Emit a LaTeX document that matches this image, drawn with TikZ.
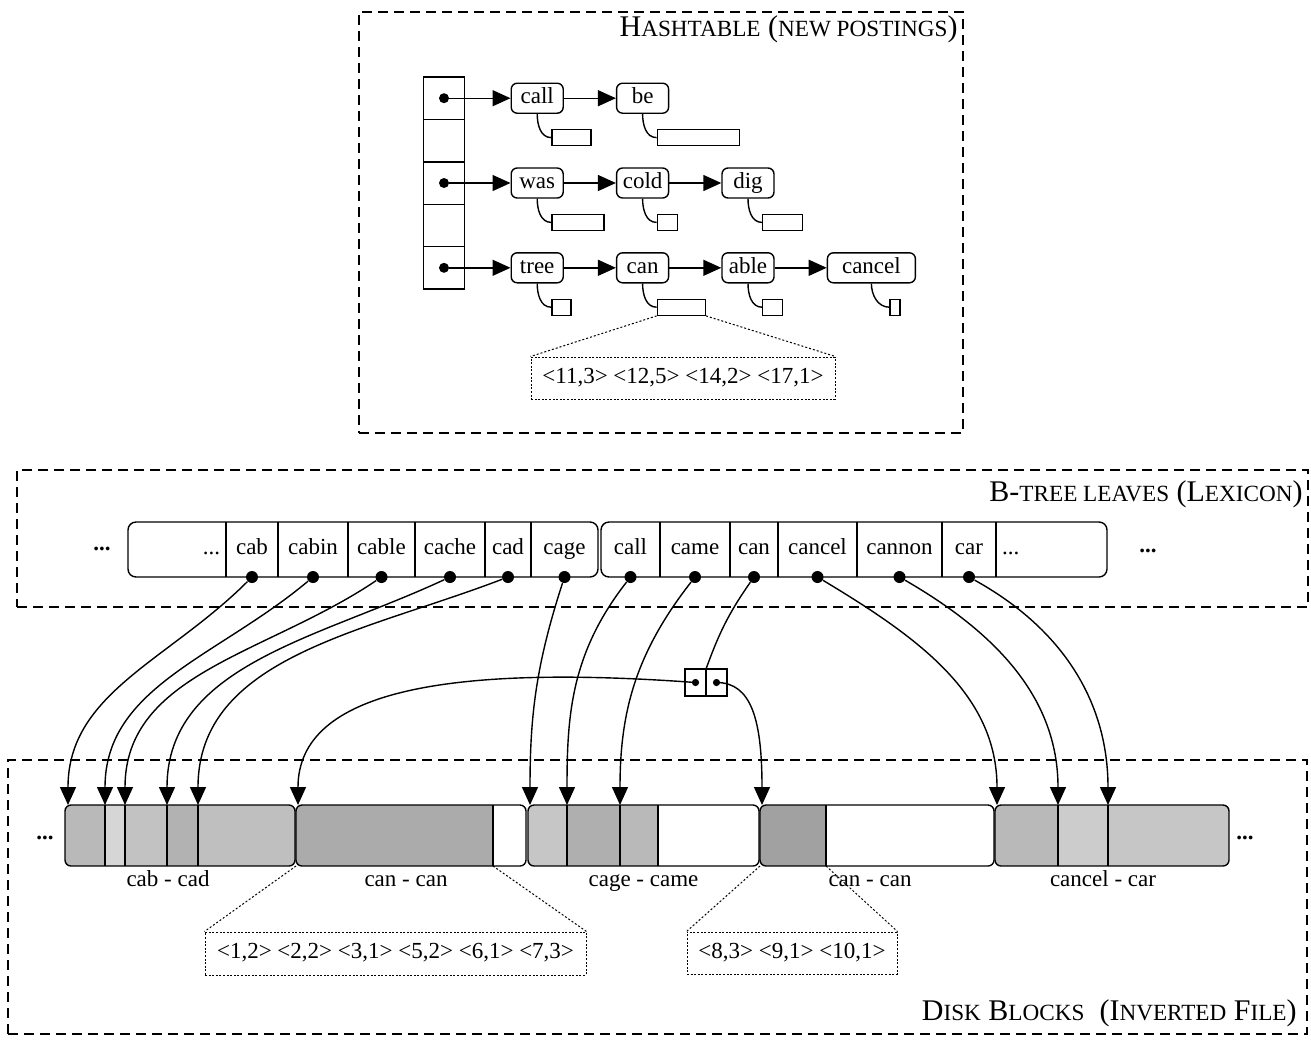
\documentclass[tikz,border=0pt]{standalone}
\usepackage{fontspec}
\setmainfont{Liberation Serif}
\usepackage{tikz}
\usetikzlibrary{
  arrows.meta,
  positioning,
  fit,
  backgrounds
}
\newcommand{\sct}[1]{{\fontsize{11.6}{13}\selectfont #1}}

\begin{document}
\begin{tikzpicture}[
    x=0.5pt, y=0.5pt,
    font=\fontsize{11.5}{13}\selectfont,
    node distance=26pt,
    region/.style={draw, line width=1pt, dash pattern=on 5pt off 3pt, inner sep=0pt},
    title/.style={inner sep=0pt, font=\fontsize{15}{17}\selectfont},
    hcell/.style={draw, line width=0.7pt, minimum width=20.5pt, minimum height=21.2pt, inner sep=0pt, outer sep=0pt},
    word/.style={draw, rounded corners=3pt, line width=0.7pt, minimum width=26pt, minimum height=15pt, inner sep=1pt, text height=7.5pt, text depth=2.2pt},
    plist/.style={draw, line width=0.7pt, minimum width=#1, minimum height=8pt, inner sep=0pt},
    leafcell/.style={minimum width=#1, minimum height=27.5pt, inner xsep=3pt, inner ysep=0pt, outer sep=0pt, text height=7.5pt, text depth=2.2pt},
    leafbox/.style={draw, rounded corners=4pt, line width=0.7pt, inner sep=0pt},
    block/.style={draw, rounded corners=3pt, line width=0.7pt, minimum height=30.5pt, inner sep=0pt, outer sep=0pt},
    bcell/.style={minimum width=#1, minimum height=30.5pt, inner sep=0pt, outer sep=0pt},
    pcell/.style={draw, line width=0.7pt, minimum width=10.5pt, minimum height=13.5pt, inner sep=0pt, outer sep=0pt},
    blob/.style={circle, fill, inner sep=0pt, minimum size=#1},
    blob/.default=6pt,
    ptr/.style={-{Triangle[length=9pt, width=8pt]}, line width=0.7pt},
    wire/.style={line width=0.7pt},
    zoombox/.style={draw, line width=0.5pt, dash pattern=on 1pt off 0.8pt, inner sep=2pt, text height=7.5pt, text depth=2.2pt},
    zoomline/.style={line width=0.5pt, dash pattern=on 1pt off 1pt},
    lbl/.style={inner sep=0pt, text height=7.5pt, text depth=2.2pt}
]
    \useasboundingbox (0,0) rectangle (1311,-1040);

    % hashtable
    \node[region, minimum width=302pt, minimum height=210.5pt] (hashbox) at (661,-222.5) {};
    \node[title, anchor=east] (hashtitle) at ([xshift=-3pt, yshift=-9pt]hashbox.north east) {H\sct{ASHTABLE} (\sct{NEW POSTINGS})};

    \node[hcell] (h1) at (444,-98.2) {};
    \node[hcell, below=0pt of h1] (h2) {};
    \node[hcell, below=0pt of h2] (h3) {};
    \node[hcell, below=0pt of h3] (h4) {};
    \node[hcell, below=0pt of h4] (h5) {};
    \node[blob=5pt] (bh1) at (h1) {};
    \node[blob=5pt] (bh3) at (h3) {};
    \node[blob=5pt] (bh5) at (h5) {};

    \node[word, right=23pt of h1] (call) {call};
    \node[word, right=of call] (be) {be};
    \node[word, right=23pt of h3] (was) {was};
    \node[word, right=of was] (cold) {cold};
    \node[word, right=of cold] (dig) {dig};
    \node[word, right=23pt of h5] (tree) {tree};
    \node[word, right=of tree] (can) {can};
    \node[word, right=of can] (able) {able};
    \node[word, right=of able, minimum width=44pt] (cancel) {cancel};

    \draw[ptr] (bh1) -- (call);
    \draw[ptr] (call) -- (be);
    \draw[ptr] (bh3) -- (was);
    \draw[ptr] (was) -- (cold);
    \draw[ptr] (cold) -- (dig);
    \draw[ptr] (bh5) -- (tree);
    \draw[ptr] (tree) -- (can);
    \draw[ptr] (can) -- (able);
    \draw[ptr] (able) -- (cancel);

    \node[plist=19.5pt, below right=7.5pt and 7pt of call.south] (pcall) {};
    \node[plist=41pt, below right=7.5pt and 7pt of be.south] (pbe) {};
    \node[plist=26pt, below right=7.5pt and 7pt of was.south] (pwas) {};
    \node[plist=10pt, below right=7.5pt and 7pt of cold.south] (pcold) {};
    \node[plist=20pt, below right=7.5pt and 7pt of dig.south] (pdig) {};
    \node[plist=9.5pt, below right=7.5pt and 7pt of tree.south] (ptree) {};
    \node[plist=24pt, below right=7.5pt and 7pt of can.south] (pcan) {};
    \node[plist=10pt, below right=7.5pt and 7pt of able.south] (pable) {};
    \node[plist=5pt, below right=7.5pt and 9pt of cancel.south] (pcancel) {};

    \foreach \w in {call,be,was,cold,dig,tree,can,able,cancel}
        \draw[wire] (\w.south) to[out=-90, in=180] (p\w.west);

    \node[zoombox, minimum width=152pt, minimum height=21pt] (canlist) at (683,-378) {<11,3> <12,5> <14,2> <17,1>};
    \draw[zoomline] (pcan.south west) -- (canlist.north west);
    \draw[zoomline] (pcan.south east) -- (canlist.north east);

    % b-tree leaves
    \node[region, minimum width=645.5pt, minimum height=68.5pt] (treebox) at (662.5,-538.5) {};
    \node[title, anchor=east] (treetitle) at ([xshift=-3pt, yshift=-12.5pt]treebox.north east) {B-\sct{TREE LEAVES} (L\sct{EXICON})};

    \node[leafcell=49pt, text width=43pt, align=right, anchor=west] (la0) at (128,-549.5) {...};
    \node[leafcell=26pt, right=0pt of la0] (la1) {cab};
    \node[leafcell=35pt, right=0pt of la1] (la2) {cabin};
    \node[leafcell=33.5pt, right=0pt of la2] (la3) {cable};
    \node[leafcell=35pt, right=0pt of la3] (la4) {cache};
    \node[leafcell=23pt, right=0pt of la4] (la5) {cad};
    \node[leafcell=33.5pt, right=0pt of la5] (la6) {cage};
    \node[leafbox, fit=(la0) (la6)] (leafA) {};

    \node[leafcell=29.5pt, anchor=west] (lb0) at (601,-549.5) {call};
    \node[leafcell=35pt, right=0pt of lb0] (lb1) {came};
    \node[leafcell=24pt, right=0pt of lb1] (lb2) {can};
    \node[leafcell=39.5pt, right=0pt of lb2] (lb3) {cancel};
    \node[leafcell=42.5pt, right=0pt of lb3] (lb4) {cannon};
    \node[leafcell=27pt, right=0pt of lb4] (lb5) {car};
    \node[leafcell=55.5pt, text width=49.5pt, align=left, right=0pt of lb5] (lb6) {...};
    \node[leafbox, fit=(lb0) (lb6)] (leafB) {};

    \foreach \c in {la0,la1,la2,la3,la4,la5,lb0,lb1,lb2,lb3,lb4,lb5}
        \draw[wire] (\c.north east) -- (\c.south east);
    \foreach \c in {la1,la2,la3,la4,la5,la6,lb0,lb1,lb2,lb3,lb4,lb5}
        \node[blob] (d\c) at (\c.south) {};

    \node (ldotsL) at (102,-549) {\textbf{...}};
    \node (ldotsR) at (1148,-551) {\textbf{...}};

    % disk blocks
    \node[region, minimum width=649.5pt, minimum height=137pt] (diskbox) at (657.5,-897) {};
    \node[title, anchor=east] (disktitle) at ([xshift=-5.5pt, yshift=11pt]diskbox.south east) {D\sct{ISK} B\sct{LOCKS}\ \ (I\sct{NVERTED} F\sct{ILE})};

    \node[block, minimum width=115pt] (blkA) at (180,-835.5) {};
    \node[block, minimum width=115pt] (blkB) at (411,-835.5) {};
    \node[block, minimum width=115.5pt] (blkC) at (643.5,-835.5) {};
    \node[block, minimum width=117pt] (blkD) at (877,-835.5) {};
    \node[block, minimum width=117pt] (blkE) at (1112,-835.5) {};

    \begin{scope}[on background layer]
        \begin{scope}
            \clip[rounded corners=3pt] (blkA.north west) rectangle (blkA.south east);
            \node[bcell=20pt, fill=gray!55, anchor=west] (bA0) at (blkA.west) {};
            \node[bcell=10pt, fill=gray!32, right=0pt of bA0] (bA1) {};
            \node[bcell=21pt, fill=gray!48, right=0pt of bA1] (bA2) {};
            \node[bcell=15.5pt, fill=gray!60, right=0pt of bA2] (bA3) {};
            \node[bcell=48.5pt, fill=gray!50, right=0pt of bA3] (bA4) {};
        \end{scope}
        \begin{scope}
            \clip[rounded corners=3pt] (blkB.north west) rectangle (blkB.south east);
            \node[bcell=98.5pt, fill=gray!66, anchor=west] (bB0) at (blkB.west) {};
            \node[bcell=16.5pt, right=0pt of bB0] (bB1) {};
        \end{scope}
        \begin{scope}
            \clip[rounded corners=3pt] (blkC.north west) rectangle (blkC.south east);
            \node[bcell=19.5pt, fill=gray!45, anchor=west] (bC0) at (blkC.west) {};
            \node[bcell=26.5pt, fill=gray!63, right=0pt of bC0] (bC1) {};
            \node[bcell=19pt, fill=gray!55, right=0pt of bC1] (bC2) {};
            \node[bcell=50.5pt, right=0pt of bC2] (bC3) {};
        \end{scope}
        \begin{scope}
            \clip[rounded corners=3pt] (blkD.north west) rectangle (blkD.south east);
            \node[bcell=33pt, fill=gray!74, anchor=west] (bD0) at (blkD.west) {};
            \node[bcell=84pt, right=0pt of bD0] (bD1) {};
        \end{scope}
        \begin{scope}
            \clip[rounded corners=3pt] (blkE.north west) rectangle (blkE.south east);
            \node[bcell=31.5pt, fill=gray!55, anchor=west] (bE0) at (blkE.west) {};
            \node[bcell=25pt, fill=gray!40, right=0pt of bE0] (bE1) {};
            \node[bcell=60.5pt, fill=gray!45, right=0pt of bE1] (bE2) {};
        \end{scope}
    \end{scope}

    \foreach \c in {bA0,bA1,bA2,bA3,bB0,bC0,bC1,bC2,bD0,bE0,bE1}
        \draw[wire] (\c.north east) -- (\c.south east);

    \node[lbl, below=2.5pt of blkA, xshift=-6pt] (labA) {cab - cad};
    \node[lbl, below=2.5pt of blkB, xshift=-2.5pt] (labB) {can - can};
    \node[lbl, below=2.5pt of blkC] (labC) {cage - came};
    \node[lbl, below=2.5pt of blkD, xshift=-3.5pt] (labD) {can - can};
    \node[lbl, below=2.5pt of blkE, xshift=-4.5pt] (labE) {cancel - car};

    \node (bdotsL) at (45,-838) {\textbf{...}};
    \node (bdotsR) at (1245,-838) {\textbf{...}};

    \node[zoombox, minimum width=190.5pt, minimum height=21.5pt] (listA) at (395.5,-953.5) {<1,2> <2,2> <3,1> <5,2> <6,1> <7,3>};
    \node[zoombox, minimum width=105pt, minimum height=21pt] (listB) at (792,-953) {<8,3> <9,1> <10,1>};
    \draw[zoomline] (bB0.south west) -- (listA.north west);
    \draw[zoomline] (bB0.south east) -- (listA.north east);
    \draw[zoomline] (bD0.south west) -- (listB.north west);
    \draw[zoomline] (bD0.south east) -- (listB.north east);

    % pointer pair for "can"
    \node[pcell] (ptrL) at (695.5,-682.5) {};
    \node[pcell, right=0pt of ptrL] (ptrR) {};
    \node[blob=3.6pt] (dpL) at (ptrL) {};
    \node[blob=3.6pt] (dpR) at (ptrR) {};

    % leaves to blocks
    \draw[ptr] (dla1) to[out=225, in=90] ([xshift=1.5pt]bA0.north west);
    \draw[ptr] (dla2) to[out=220, in=90] (bA1.north west);
    \draw[ptr] (dla3) to[out=214, in=90] (bA2.north west);
    \draw[ptr] (dla4) to[out=205, in=90] (bA3.north west);
    \draw[ptr] (dla5) to[out=201, in=90] (bA4.north west);
    \draw[ptr] (dla6) to[out=252, in=90] ([xshift=1pt]bC0.north west);
    \draw[ptr] (dlb0) to[out=232, in=90] (bC1.north west);
    \draw[ptr] (dlb1) to[out=232, in=90] (bC2.north west);
    \draw[wire] (dlb2) to[out=235, in=70] (ptrL.north east);
    \draw[ptr] (dlb3) to[out=-31, in=90] ([xshift=1pt]bE0.north west);
    \draw[ptr] (dlb4) to[out=-30, in=90] (bE1.north west);
    \draw[ptr] (dlb5) to[out=-29, in=90] (bE2.north west);
    \draw[ptr] (dpL.center) .. controls +(-246,18) and +(0,115) .. ([xshift=1pt]bB0.north west);
    \draw[ptr] (dpR.center) .. controls +(35,0) and +(0,85) .. ([xshift=1pt]bD0.north west);

\end{tikzpicture}
\end{document}
